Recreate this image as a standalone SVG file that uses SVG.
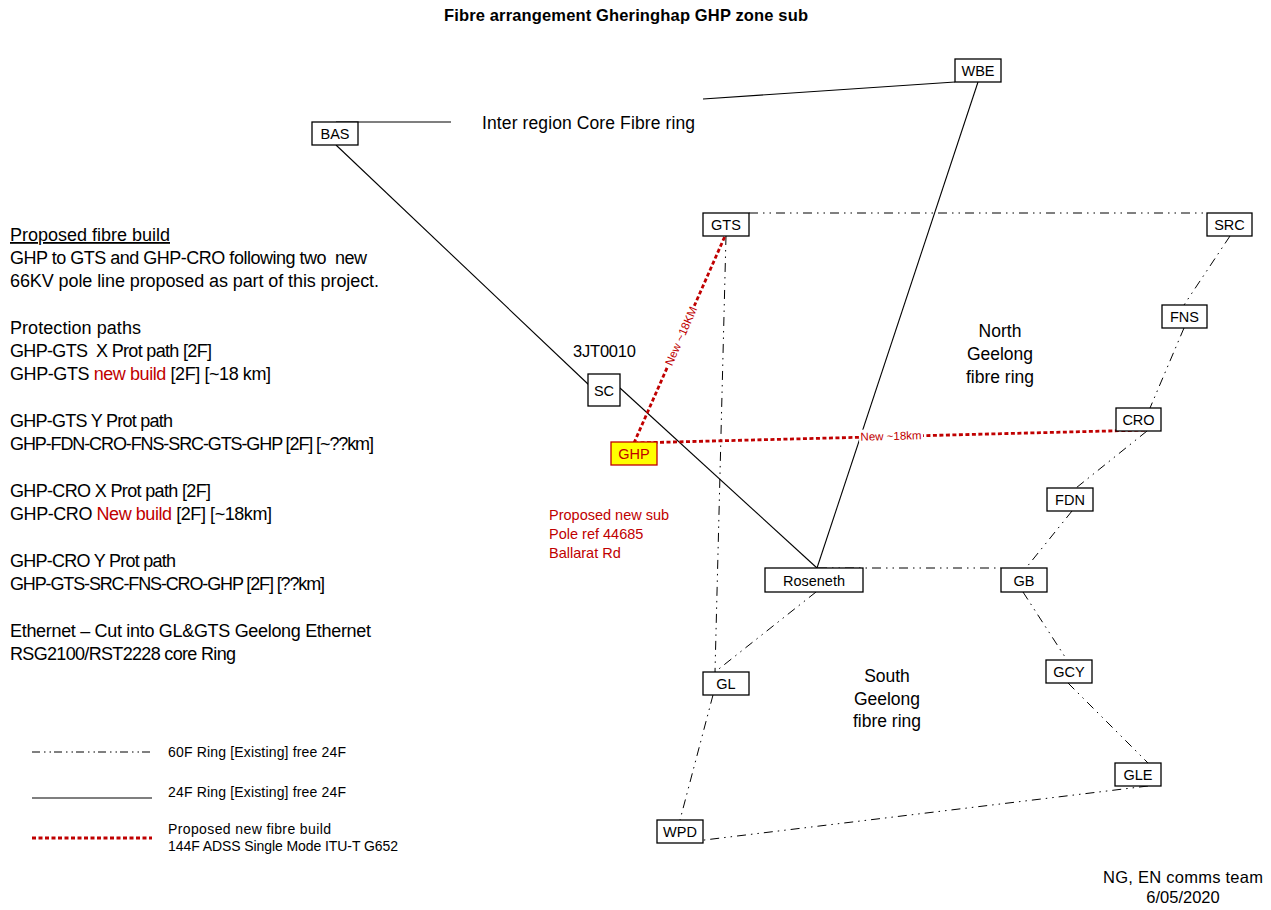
<svg xmlns="http://www.w3.org/2000/svg" width="1271" height="910" viewBox="0 0 1271 910">
  <style>
    .bg { fill: #ffffff; }
    .txt { font-family: "Liberation Sans", Arial, sans-serif; fill: #000000; }
    .red { fill: #c00000; }
    .node rect { fill: #ffffff; stroke: #000000; stroke-width: 1.3; }
    .node text { font-family: "Liberation Sans", Arial, sans-serif; font-size: 14.5px; fill: #000000; text-anchor: middle; }
    .ring60 { stroke: #000000; stroke-width: 1; fill: none; stroke-dasharray: 9 5 1.5 5 1.5 5; }
    .ring24 { stroke: #000000; stroke-width: 1.1; fill: none; }
    .newfib { stroke: #c00000; stroke-width: 2.8; fill: none; stroke-dasharray: 4 2.5; }
    .note { font-family: "Liberation Sans", Arial, sans-serif; font-size: 18px; fill: #000000; }
    .small { font-family: "Liberation Sans", Arial, sans-serif; font-size: 14px; fill: #000000; }
    .lbl { font-family: "Liberation Sans", Arial, sans-serif; font-size: 11.5px; fill: #c00000; text-anchor: middle; }
  </style>

  <rect class="bg" x="0" y="0" width="1271" height="910"/>

  <!-- Title -->
  <text class="txt" x="626" y="21" font-size="16.5" font-weight="bold" text-anchor="middle" textLength="364">Fibre arrangement Gheringhap GHP zone sub</text>

  <!-- Connectors -->
  <g id="connectors">
    <!-- inter region core ring (24F solid) -->
    <line class="ring24" x1="336" y1="122" x2="451" y2="122"/>
    <line class="ring24" x1="703" y1="99" x2="955" y2="82"/>
    <line class="ring24" x1="978" y1="82" x2="817" y2="568"/>
    <line class="ring24" x1="336" y1="145" x2="589" y2="385"/>
    <line class="ring24" x1="620" y1="388" x2="817" y2="568"/>

    <!-- north ring (60F dash-dot) -->
    <line class="ring60" x1="749" y1="213" x2="1207" y2="213"/>
    <line class="ring60" x1="1230" y1="236" x2="1184" y2="305"/>
    <line class="ring60" x1="1184" y1="328" x2="1150" y2="408"/>
    <line class="ring60" x1="1147" y1="431" x2="1076" y2="488"/>
    <line class="ring60" x1="1072" y1="511" x2="1026" y2="568"/>
    <line class="ring60" x1="726" y1="236" x2="715" y2="672"/>
    <line class="ring60" x1="818" y1="568" x2="1001" y2="568"/>

    <!-- south ring (60F dash-dot) -->
    <line class="ring60" x1="1023" y1="592" x2="1067" y2="660"/>
    <line class="ring60" x1="1068" y1="683" x2="1148" y2="763"/>
    <line class="ring60" x1="1148" y1="786" x2="688" y2="842"/>
    <line class="ring60" x1="713" y1="695" x2="680" y2="820"/>
    <line class="ring60" x1="816" y1="592" x2="715" y2="672"/>

    <!-- proposed new fibre build -->
    <line class="newfib" x1="634" y1="443" x2="725" y2="236"/>
    <line class="newfib" x1="634" y1="443" x2="1147" y2="430"/>

    <!-- route labels -->
    <g transform="translate(681 336) rotate(-66.3)">
      <rect x="-33" y="-7" width="66" height="13" fill="#ffffff"/>
      <text class="lbl" x="0" y="4">New ~18KM</text>
    </g>
    <g transform="translate(891 436) rotate(-1.45)">
      <rect x="-32" y="-7" width="64" height="13" fill="#ffffff"/>
      <text class="lbl" x="0" y="4">New ~18km</text>
    </g>
  </g>

  <!-- Nodes -->
  <g id="node-BAS" class="node"><rect x="312" y="122" width="46" height="23"/><text x="335" y="139">BAS</text></g>
  <g id="node-WBE" class="node"><rect x="955" y="59" width="46" height="23"/><text x="978" y="76">WBE</text></g>
  <g id="node-GTS" class="node"><rect x="703" y="213" width="46" height="23"/><text x="726" y="230">GTS</text></g>
  <g id="node-SRC" class="node"><rect x="1207" y="213" width="45" height="23"/><text x="1229.5" y="230">SRC</text></g>
  <g id="node-FNS" class="node"><rect x="1162" y="305" width="45" height="23"/><text x="1184.5" y="322">FNS</text></g>
  <g id="node-CRO" class="node"><rect x="1116" y="408" width="45" height="23"/><text x="1138.5" y="425">CRO</text></g>
  <g id="node-FDN" class="node"><rect x="1047" y="488" width="46" height="23"/><text x="1070" y="505">FDN</text></g>
  <g id="node-GB" class="node"><rect x="1001" y="568" width="46" height="24"/><text x="1024" y="585.5">GB</text></g>
  <g id="node-GCY" class="node"><rect x="1046" y="660" width="46" height="23"/><text x="1069" y="677">GCY</text></g>
  <g id="node-GLE" class="node"><rect x="1115" y="763" width="46" height="23"/><text x="1138" y="780">GLE</text></g>
  <g id="node-WPD" class="node"><rect x="657" y="820" width="46" height="23"/><text x="680" y="837">WPD</text></g>
  <g id="node-GL" class="node"><rect x="703" y="672" width="46" height="23"/><text x="726" y="689">GL</text></g>
  <g id="node-Roseneth" class="node"><rect x="765" y="568" width="98" height="24"/><text x="814" y="585.5">Roseneth</text></g>
  <g id="node-SC" class="node"><rect x="588" y="374" width="32" height="32"/><text x="604" y="395.5">SC</text></g>
  <g id="node-GHP" class="node"><rect x="611" y="442" width="46" height="23" style="fill:#ffff00;stroke:#c00000"/><text x="634" y="459" style="fill:#c00000">GHP</text></g>

  <!-- Ring and site annotations -->
  <text class="txt" x="482" y="129" font-size="17.5" textLength="213">Inter region Core Fibre ring</text>
  <text class="txt" x="573" y="357" font-size="16.5" textLength="63">3JT0010</text>

  <g class="txt" font-size="17.5" text-anchor="middle">
    <text x="1000" y="337">North</text>
    <text x="1000" y="360">Geelong</text>
    <text x="1000" y="383">fibre ring</text>
    <text x="887" y="682">South</text>
    <text x="887" y="705">Geelong</text>
    <text x="887" y="727">fibre ring</text>
  </g>

  <g class="txt red" font-size="14.5">
    <text x="549" y="520">Proposed new sub</text>
    <text x="549" y="539">Pole ref 44685</text>
    <text x="549" y="558">Ballarat Rd</text>
  </g>

  <!-- Project notes -->
  <g id="notes">
    <text class="note" x="10" y="241" textLength="160" text-decoration="underline">Proposed fibre build</text>
    <text class="note" x="10" y="264" textLength="357" xml:space="preserve">GHP to GTS and GHP-CRO following two  new</text>
    <text class="note" x="10" y="287" textLength="369">66KV pole line proposed as part of this project.</text>
    <text class="note" x="10" y="334" textLength="131">Protection paths</text>
    <text class="note" x="10" y="357" textLength="202" xml:space="preserve">GHP-GTS  X Prot path [2F]</text>
    <text class="note" x="10" y="380" textLength="261">GHP-GTS <tspan class="red">new build</tspan> [2F] [~18 km]</text>
    <text class="note" x="10" y="427" textLength="163">GHP-GTS Y Prot path</text>
    <text class="note" x="10" y="450" textLength="364">GHP-FDN-CRO-FNS-SRC-GTS-GHP [2F] [~??km]</text>
    <text class="note" x="10" y="497" textLength="201">GHP-CRO X Prot path [2F]</text>
    <text class="note" x="10" y="520" textLength="262">GHP-CRO <tspan class="red">New build</tspan> [2F] [~18km]</text>
    <text class="note" x="10" y="567" textLength="166">GHP-CRO Y Prot path</text>
    <text class="note" x="10" y="590" textLength="315">GHP-GTS-SRC-FNS-CRO-GHP [2F] [??km]</text>
    <text class="note" x="10" y="637" textLength="361">Ethernet – Cut into GL&amp;GTS Geelong Ethernet</text>
    <text class="note" x="10" y="660" textLength="226">RSG2100/RST2228 core Ring</text>
  </g>

  <!-- Legend -->
  <g id="legend">
    <line class="ring60" x1="32" y1="752" x2="152" y2="752" style="stroke-dasharray:8 4 1.5 4 1.5 3"/>
    <text class="small" x="168" y="757" textLength="178">60F Ring [Existing] free 24F</text>
    <line class="ring24" x1="32" y1="798" x2="152" y2="798"/>
    <text class="small" x="168" y="797" textLength="178">24F Ring [Existing] free 24F</text>
    <line class="newfib" x1="32" y1="838" x2="152" y2="838"/>
    <text class="small" x="168" y="834" textLength="163">Proposed new fibre build</text>
    <text class="small" x="168" y="851" textLength="230">144F ADSS Single Mode ITU-T G652</text>
  </g>

  <!-- Author / date -->
  <g class="txt" font-size="16.5" text-anchor="middle">
    <text x="1183" y="883" textLength="160">NG, EN comms team</text>
    <text x="1183" y="903">6/05/2020</text>
  </g>
</svg>
